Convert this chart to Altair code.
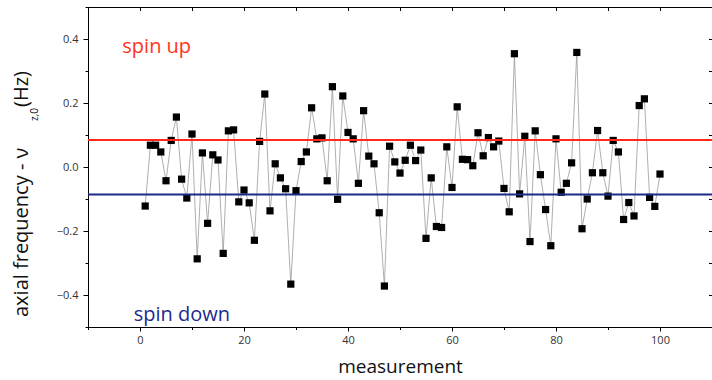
import altair as alt
import pandas as pd

measurement = list(range(1, 101))
freq = [
    -0.122, 0.068, 0.068, 0.047, -0.043, 0.083, 0.156, -0.038, -0.097, 0.103,
    -0.287, 0.044, -0.176, 0.038, 0.022, -0.270, 0.113, 0.116, -0.109, -0.072,
    -0.112, -0.229, 0.080, 0.228, -0.137, 0.010, -0.034, -0.068, -0.366, -0.074,
    0.017, 0.047, 0.185, 0.088, 0.091, -0.043, 0.251, -0.101, 0.222, 0.108,
    0.088, -0.051, 0.176, 0.034, 0.010, -0.143, -0.372, 0.065, 0.016, -0.019,
    0.021, 0.068, 0.020, 0.053, -0.223, -0.034, -0.186, -0.189, 0.063, -0.064,
    0.188, 0.024, 0.023, 0.004, 0.107, 0.035, 0.092, 0.063, 0.081, -0.067,
    -0.140, 0.354, -0.084, 0.096, -0.233, 0.113, -0.024, -0.133, -0.246, 0.088,
    -0.079, -0.051, 0.013, 0.358, -0.193, -0.100, -0.018, 0.114, -0.018, -0.091,
    0.083, 0.047, -0.164, -0.111, -0.153, 0.192, 0.213, -0.095, -0.123, -0.022,
]

spin_levels = [0.084, -0.086]
spin_colors = ["#ff2a1a", "#1a2a8a"]
spin_labels = ["spin up", "spin down"]
label_x = [-3.4, -1.2]
label_y = [0.374, -0.462]
label_colors = ["#ff3322", "#1c2b8e"]

x_major = [0, 20, 40, 60, 80, 100]
x_minor = [-10, 10, 30, 50, 70, 90, 110]
x_all = list(range(-10, 111, 10))
y_major = [-0.4, -0.2, 0.0, 0.2, 0.4]
y_minor = [-0.5, -0.3, -0.1, 0.1, 0.3, 0.5]
y_all = [-0.4, -0.3, -0.2, -0.1, 0.0, 0.1, 0.2, 0.3, 0.4]

df = pd.DataFrame({"measurement": measurement, "freq": freq})
levels = pd.DataFrame({"level": spin_levels, "color": spin_colors})
labels = pd.DataFrame({"x": label_x, "y": label_y, "text": spin_labels, "color": label_colors})
one = pd.DataFrame({"k": [0]})

xs = alt.Scale(domain=[-10, 110], nice=False, zero=False)
ys = alt.Scale(domain=[-0.5, 0.5], nice=False, zero=False)

FONT = "Open Sans"

line = alt.Chart(df).mark_line(color="#9a9a9a", strokeWidth=0.8).encode(
    x=alt.X("measurement:Q", scale=xs, axis=alt.Axis(
        orient="bottom", values=x_major, tickSize=4, labelPadding=3,
        format="d", title="measurement", titleFontSize=19, titleFont=FONT,
        titleFontWeight="normal", titlePadding=12, titleColor="#111")),
    y=alt.Y("freq:Q", scale=ys, axis=alt.Axis(
        orient="left", values=y_major, tickSize=5, labelPadding=5,
        format=".1f", title=None)),
)

points = alt.Chart(df).mark_point(shape="square", size=52, filled=True,
                                  color="black", opacity=1).encode(
    x=alt.X("measurement:Q", scale=xs, axis=alt.Axis(
        orient="bottom", values=x_minor, tickSize=2.5, labels=False,
        domain=False, title=None)),
    y=alt.Y("freq:Q", scale=ys, axis=alt.Axis(
        orient="left", values=y_minor, tickSize=3, labels=False,
        domain=False, title=None)),
)

rules = alt.Chart(levels).mark_rule(strokeWidth=2).encode(
    y=alt.Y("level:Q", scale=ys, axis=None),
    color=alt.Color("color:N", scale=None),
)

texts = alt.Chart(labels).mark_text(align="left", baseline="middle",
                                    fontSize=20, font=FONT).encode(
    x=alt.X("x:Q", scale=xs, axis=alt.Axis(
        orient="top", values=x_all, tickSize=3.5, offset=-3.5, labels=False,
        domain=False, title=None)),
    y=alt.Y("y:Q", scale=ys, axis=alt.Axis(
        orient="right", values=y_all, tickSize=3.5, offset=-3.5, labels=False,
        domain=False, title=None)),
    text="text:N",
    color=alt.Color("color:N", scale=None),
)

ytitle_main = alt.Chart(one).mark_text(
    text="axial frequency - ν", angle=270, align="left", baseline="alphabetic",
    fontSize=20, font=FONT, color="#111"
).encode(x=alt.value(-60), y=alt.value(310))

ytitle_sub = alt.Chart(one).mark_text(
    text="z,0", angle=270, align="left", baseline="alphabetic",
    fontSize=10, font=FONT, color="#111"
).encode(x=alt.value(-50), y=alt.value(114))

ytitle_end = alt.Chart(one).mark_text(
    text="(Hz)", angle=270, align="left", baseline="alphabetic",
    fontSize=20, font=FONT, color="#111"
).encode(x=alt.value(-60), y=alt.value(100))

chart = alt.layer(line, points, rules, texts, ytitle_main, ytitle_sub, ytitle_end).resolve_axis(
    x="independent", y="independent"
).properties(
    width=624, height=320,
    autosize=alt.AutoSizeParams(type="none"),
    padding={"left": 88, "top": 7, "right": 0, "bottom": 53},
).configure_view(
    stroke="black", strokeWidth=1
).configure_axis(
    domainColor="black", tickColor="black", labelColor="#333",
    labelFont=FONT, labelFontSize=11, grid=False,
)

chart.save("out.html", embed_options={"renderer": "svg", "actions": False})
